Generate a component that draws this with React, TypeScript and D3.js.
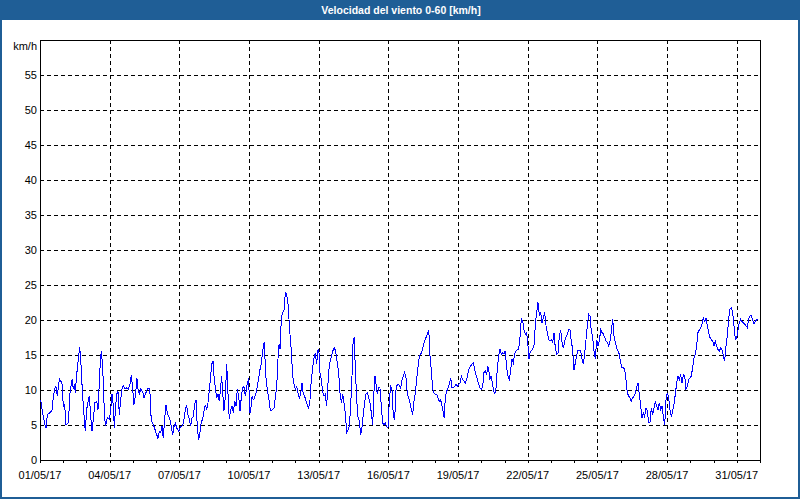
import * as d3 from 'd3';

// hours since 01/05/17 00:00 and the wind speed read at that moment
const readingHours = [
  0, 1.0, 2.8, 5.2, 6.2, 7.6, 9.6, 12.4, 13.8, 15.5,
  16.5, 17.9, 20.0, 21.4, 22.7, 24.1, 25.5, 26.9, 29.3, 31.0,
  33.1, 34.4, 35.5, 36.5, 37.9, 39.6, 41.0, 42.0, 43.1, 44.8,
  46.8, 48.2, 50.0, 51.0, 52.0, 53.7, 55.1, 56.8, 58.6, 59.9,
  61.3, 62.3, 63.4, 64.8, 66.1, 67.5, 69.6, 71.6, 73.0, 74.4,
  75.8, 76.8, 77.8, 79.2, 80.6, 82.0, 83.4, 84.7, 86.1, 87.8,
  89.6, 91.3, 93.0, 94.4, 95.8, 97.1, 98.5, 100.2, 101.3, 102.6,
  104.0, 106.1, 107.5, 108.8, 110.9, 112.6, 113.7, 115.0, 116.4, 117.8,
  119.9, 121.9, 123.3, 124.7, 126.1, 127.4, 128.8, 130.2, 131.6, 133.0,
  134.3, 135.7, 137.1, 138.5, 139.8, 141.2, 143.3, 145.4, 147.4, 148.8,
  150.2, 151.5, 152.9, 154.3, 155.7, 157.1, 158.4, 159.8, 161.2, 162.6,
  164.0, 165.3, 166.7, 168.1, 169.5, 170.8, 172.2, 173.6, 175.7, 177.4,
  178.8, 179.8, 181.2, 182.6, 183.9, 185.3,
  187.7, 188.8, 190.1, 191.5, 192.9, 194.3, 195.6, 197.0, 198.4, 199.8,
  201.2, 202.5, 203.9, 205.3, 206.7, 208.0, 209.4, 210.8, 212.2, 213.6,
  214.6, 215.6, 216.7, 217.7, 219.1, 220.4, 221.8, 223.2, 224.6, 226.0,
  227.3, 228.7, 230.1, 231.5, 232.5, 233.5, 234.9, 236.3, 237.7, 239.0,
  240.4, 241.8, 243.2, 244.6, 245.9, 247.0, 248.0, 249.4, 250.8, 252.1,
  253.5, 254.9, 256.3, 257.3, 258.3, 259.7, 261.1, 262.5, 263.8, 265.2,
  266.6, 268.0, 269.4, 270.7, 272.1, 273.5, 274.9, 276.2, 277.6, 279.0,
  280.4, 281.8, 283.1, 284.5, 285.9, 287.3, 288.6, 289.3, 290.7, 292.1,
  293.5, 294.8, 296.2, 297.6, 299.0, 300.4, 301.7, 303.1, 304.5, 305.9,
  307.2, 308.6, 310.0, 311.4, 312.8, 314.1, 315.5, 316.9, 318.3, 319.6,
  321.0, 322.4, 323.4, 324.5, 325.8, 327.2, 328.6, 330.0, 331.4, 332.7,
  334.1, 335.5, 336.9, 338.2, 339.6, 341.0, 342.4, 343.8, 345.1, 346.2,
  347.2, 348.6, 350.0, 351.3, 352.7, 354.1, 355.5, 356.8, 358.2, 359.6,
  361.0, 362.4, 363.7, 365.1, 366.5, 367.9, 369.2, 370.6,
  372.7, 374.1, 375.4, 376.8, 378.2, 379.6, 381.0, 382.3, 383.7, 385.1,
  386.5, 387.8, 389.2, 390.6, 392.0, 393.4, 394.7, 396.1, 397.5, 398.9,
  400.2, 401.6, 402.3, 403.0, 404.4, 405.8, 407.1, 408.5, 409.9, 411.3,
  412.6, 414.0, 415.4, 416.8, 417.8, 418.8, 420.2, 421.6, 423.0, 424.4,
  425.7, 427.1, 428.5, 429.9, 431.2, 432.6, 434.0, 435.4, 436.8, 438.1,
  439.5, 440.9, 442.3, 443.6, 445.0, 446.4, 447.8, 449.2, 450.5, 451.9,
  453.3, 454.7, 456.0, 457.4, 458.8, 460.2, 461.6, 462.6, 463.6, 465.0,
  466.0, 467.1, 468.4, 469.8, 471.2, 472.6, 474.0, 475.3, 476.7, 478.1,
  479.5, 480.8, 482.2, 483.6, 485.0, 486.4, 487.7, 489.1, 490.5, 491.9,
  493.2, 494.6, 496.0, 497.4, 498.8, 500.1, 501.5, 502.9, 504.3, 505.3,
  506.3, 507.7, 509.1, 510.5, 511.8, 513.2, 514.6, 516.0, 517.4, 518.7,
  520.1, 521.5, 522.9, 524.2, 525.6, 527.0, 528.4, 529.8, 531.1, 532.5,
  533.9, 535.3, 536.6, 538.0, 539.4, 540.8, 542.2, 543.5, 544.9, 546.3,
  547.7, 549.0, 550.4, 551.8, 553.2, 554.6, 555.9, 557.3,
  558.7, 560.1, 561.4, 562.8, 564.2, 565.6, 567.0, 568.3, 569.7, 571.1,
  572.5, 573.8, 575.2, 576.6, 578.0, 579.4, 580.7, 582.1, 583.5, 584.9,
  586.2, 587.6, 589.0, 590.4, 591.8, 593.1, 594.5, 595.9, 597.3, 598.6,
  600.0, 601.4, 602.8, 604.2, 605.5, 606.9, 608.3, 609.7, 611.0, 612.4,
  613.8, 615.2, 616.6, 617.9, 619.3, 620.7, 622.1, 623.4, 624.8, 626.2,
  627.6, 629.0, 630.3, 631.7, 633.1, 634.5, 635.8, 637.2, 638.6, 640.0,
  641.4, 642.7, 644.1, 645.5, 646.9, 648.2, 649.6, 651.0, 652.4, 653.8,
  655.1, 656.5, 657.9, 659.3, 660.6, 662.0, 663.4, 664.8, 666.2, 667.5,
  668.9, 670.3, 671.7, 673.0, 674.4, 675.8, 677.2, 678.6, 679.9, 681.3,
  682.7, 684.1, 685.4, 686.8, 688.2, 689.6, 691.0, 692.3, 693.7, 695.1,
  696.5, 697.8, 699.2, 700.6, 702.0, 703.4, 704.7, 706.1, 707.5, 708.9,
  710.2, 711.6, 713.0, 714.4, 715.8, 717.1, 718.5, 719.9, 721.3, 722.6,
  724.0, 725.4, 726.8, 728.2, 729.5, 730.9, 732.3, 733.7, 735.0, 736.4,
  737.8, 739.2, 740.6, 741.9,
];

const windKmh = [
  8.5, 8.3, 6.7, 5.0, 4.6, 6.5, 6.7, 7.1, 9.1, 10.3,
  10.5, 9.1, 11.6, 11.3, 11.0, 7.7, 7.9, 5.0, 5.3, 9.6,
  11.5, 10.1, 10.8, 9.6, 12.2, 14.4, 16.1, 14.6, 11.5, 7.7,
  4.1, 7.2, 8.6, 9.1, 7.0, 4.1, 5.8, 8.2, 8.4, 7.2,
  11.0, 13.9, 15.6, 13.2, 8.2, 4.8, 6.0, 5.8, 7.0, 9.4,
  7.7, 4.6, 7.0, 9.4, 9.8, 6.5, 8.6, 10.1, 10.6, 10.1,
  10.3, 10.1, 10.8, 12.2, 10.1, 7.9, 9.1, 11.7, 10.1, 9.4,
  10.1, 9.8, 8.9, 9.4, 10.1, 10.3, 9.4, 5.5, 5.3, 4.8,
  3.9, 3.1, 4.1, 3.9, 4.8, 3.1, 5.8, 7.9, 6.7, 6.2,
  5.8, 4.8, 3.6, 4.8, 5.3, 4.6, 4.1, 4.8, 4.9, 5.8,
  7.2, 7.9, 6.5, 5.8, 4.8, 6.0, 6.2, 7.9, 8.6, 4.6,
  2.9, 3.9, 5.5, 5.8, 7.0, 7.9, 7.2, 8.2, 11.0, 13.7,
  14.1, 12.0, 10.3, 8.9, 9.4, 8.4,
  12.0, 9.6, 7.0, 9.1, 13.7, 9.4, 5.8, 7.2, 7.7, 6.7,
  8.4, 7.7, 10.1, 9.1, 7.0, 8.9, 10.3, 10.5, 9.1, 10.5,
  11.0, 11.7, 6.7, 7.0, 9.1, 8.6, 8.9, 9.6, 10.5, 11.7,
  12.9, 13.7, 15.6, 16.8, 14.4, 11.7, 10.1, 8.9, 7.4, 7.0,
  7.2, 7.4, 8.9, 10.5, 14.4, 16.5, 15.8, 20.3, 21.1, 21.3,
  23.9, 23.7, 22.3, 20.1, 18.0, 15.6, 12.0, 10.8, 10.1, 10.5,
  9.6, 8.9, 9.4, 11.0, 9.4, 9.1, 8.4, 7.9, 7.4, 8.6,
  11.5, 13.2, 14.6, 15.3, 13.7, 15.8, 15.1, 12.5, 11.5, 9.8,
  9.1, 9.4, 7.7, 11.0, 13.7, 14.4, 15.1, 15.8, 16.0, 15.1,
  13.9, 12.5, 9.6, 8.2, 9.4, 8.2, 6.7, 3.9, 4.3, 4.8,
  7.7, 12.0, 16.5, 17.5, 13.4, 8.6, 6.2, 5.5, 3.6, 4.6,
  6.5, 8.2, 9.4, 9.6, 8.9, 8.2, 6.7, 5.0, 9.8, 12.0,
  10.8, 9.4, 10.3, 10.3, 7.7, 5.3, 5.0, 5.3, 4.8, 4.6,
  8.6, 10.5, 10.1, 6.2, 5.8, 10.1, 10.8, 10.8,
  10.3, 11.5, 12.0, 12.5, 11.7, 9.4, 8.9, 8.2, 7.2, 6.5,
  8.4, 9.6, 11.5, 13.2, 14.9, 15.1, 15.6, 16.3, 17.0, 17.5,
  18.0, 18.4, 17.5, 14.9, 12.7, 10.1, 9.6, 9.4, 9.4, 8.9,
  8.4, 8.6, 7.7, 6.7, 6.0, 8.9, 9.8, 10.3, 10.8, 11.7,
  10.3, 10.3, 10.5, 10.8, 10.5, 10.8, 11.0, 12.0, 11.5, 11.3,
  11.0, 11.5, 12.5, 13.2, 13.4, 13.7, 13.9, 12.9, 12.2, 11.5,
  10.8, 10.3, 10.1, 10.5, 12.5, 12.7, 12.2, 13.4, 12.9, 11.5,
  12.0, 11.3, 10.1, 9.4, 10.3, 13.2, 14.9, 15.8, 15.1, 15.3,
  15.1, 15.6, 13.2, 12.0, 11.5, 12.9, 14.4, 13.9, 15.1, 15.6,
  15.8, 15.8, 17.5, 20.3, 19.8, 18.6, 18.0, 18.2, 16.3, 14.4,
  15.3, 15.6, 15.8, 16.5, 19.2, 21.1, 22.5, 20.6, 21.1, 19.6,
  20.3, 21.1, 19.2, 18.2, 17.2, 17.0, 17.2, 16.8, 18.2, 16.0,
  15.1, 15.3, 17.7, 18.6, 16.8, 16.0, 17.0, 17.5, 18.0, 18.6,
  18.6, 17.0, 15.8, 12.9, 13.9, 14.9, 15.7, 15.6,
  15.6, 14.4, 13.7, 15.1, 17.2, 19.2, 20.8, 20.6, 18.4, 17.5,
  15.6, 14.4, 17.2, 16.3, 17.0, 18.6, 18.2, 18.0, 17.5, 17.0,
  16.8, 16.3, 17.0, 18.4, 20.1, 17.7, 16.8, 16.0, 15.6, 15.1,
  13.9, 13.2, 13.2, 12.9, 11.5, 9.6, 9.1, 8.9, 8.4, 8.9,
  9.1, 9.6, 10.5, 11.0, 9.4, 7.7, 6.0, 6.7, 6.2, 7.4,
  7.0, 5.3, 5.3, 7.4, 6.5, 7.4, 8.4, 7.7, 7.2, 8.2,
  7.2, 7.7, 6.2, 5.0, 8.6, 9.6, 8.9, 7.2, 6.2, 7.0,
  7.9, 9.4, 11.0, 12.0, 11.5, 12.2, 11.0, 12.2, 12.0, 10.1,
  10.5, 11.5, 11.7, 12.0, 13.2, 14.6, 15.1, 16.5, 18.2, 18.6,
  18.9, 19.4, 20.3, 19.8, 20.3, 19.2, 18.2, 17.5, 17.2, 17.0,
  16.3, 17.0, 16.3, 15.8, 15.6, 16.0, 15.8, 14.9, 14.1, 16.3,
  17.7, 20.1, 21.6, 21.8, 21.1, 19.2, 17.2, 17.5, 18.6, 19.6,
  20.1, 19.8, 19.6, 19.4, 19.2, 18.9, 20.1, 20.6, 20.6, 20.1,
  19.4, 19.8, 20.1, 20.1,
];

const labelDays = [1, 4, 7, 10, 13, 16, 19, 22, 25, 28, 31];
const yTicks = [0, 5, 10, 15, 20, 25, 30, 35, 40, 45, 50, 55];

const W = 800;
const H = 500;
const plot = { left: 40, right: 760, top: 40, bottom: 460 };
const frameBlue = '#1f5e96';
const font = '"Liberation Sans", Arial, sans-serif';

export default function App() {
  const start = new Date(Date.UTC(2017, 4, 1));
  const end = new Date(Date.UTC(2017, 5, 1));

  const x = d3.scaleUtc().domain([start, end]).range([plot.left, plot.right]);
  const y = d3.scaleLinear().domain([0, 60]).range([plot.bottom, plot.top]);
  const fmt = d3.utcFormat('%d/%m/%y');
  const px = (v: number) => Math.round(v) + 0.5;

  const points = readingHours.map((h, i) => ({
    t: new Date(start.getTime() + h * 3600e3),
    v: windKmh[i],
  }));

  const line = d3
    .line<{ t: Date; v: number }>()
    .x((d) => x(d.t))
    .y((d) => y(d.v));

  const days = d3.utcDay.range(start, d3.utcDay.offset(end, 1));
  const labelDates = labelDays.map((d) => new Date(Date.UTC(2017, 4, d)));

  return (
    <svg
      width={W}
      height={H}
      style={{ position: 'absolute', left: 0, top: 0, background: '#fff' }}
      fontFamily={font}
    >
      {/* window frame */}
      <rect x={0} y={0} width={W} height={20} fill={frameBlue} />
      <rect x={1} y={1} width={W - 2} height={H - 3} fill="none" stroke={frameBlue} strokeWidth={2} />
      <text x={401} y={14} textAnchor="middle" fill="#fff" fontSize={10.5} fontWeight="bold">
        Velocidad del viento 0-60 [km/h]
      </text>

      {/* grid */}
      <g stroke="#000" strokeDasharray="4,3" shapeRendering="crispEdges">
        {yTicks.filter((t) => t > 0).map((t) => (
          <line key={'h' + t} x1={plot.left} x2={plot.right} y1={px(y(t))} y2={px(y(t))} />
        ))}
        {labelDates.slice(1).map((d) => (
          <line key={'v' + d.getTime()} x1={px(x(d))} x2={px(x(d))} y1={plot.top} y2={plot.bottom} />
        ))}
      </g>

      {/* daily ticks */}
      <g stroke="#000" shapeRendering="crispEdges">
        {days.map((d) => (
          <line key={'t' + d.getTime()} x1={px(x(d))} x2={px(x(d))} y1={plot.bottom} y2={plot.bottom + 3} />
        ))}
      </g>

      {/* frame */}
      <rect
        x={plot.left + 0.5}
        y={plot.top + 0.5}
        width={plot.right - plot.left}
        height={plot.bottom - plot.top}
        fill="none"
        stroke="#000"
        shapeRendering="crispEdges"
      />

      {/* y labels */}
      <g fontSize={11} fill="#000" textAnchor="end">
        {yTicks.map((t) => (
          <text key={'yl' + t} x={37} y={y(t) + 4}>
            {t}
          </text>
        ))}
        <text x={37} y={50}>km/h</text>
      </g>

      {/* x labels */}
      <g fontSize={11} fill="#000" textAnchor="middle">
        {labelDates.map((d) => (
          <text key={'xl' + d.getTime()} x={x(d)} y={479}>
            {fmt(d)}
          </text>
        ))}
      </g>

      <path
        d={line(points) ?? ''}
        fill="none"
        stroke="#0000ff"
        strokeWidth={1}
        shapeRendering="crispEdges"
      />
    </svg>
  );
}
